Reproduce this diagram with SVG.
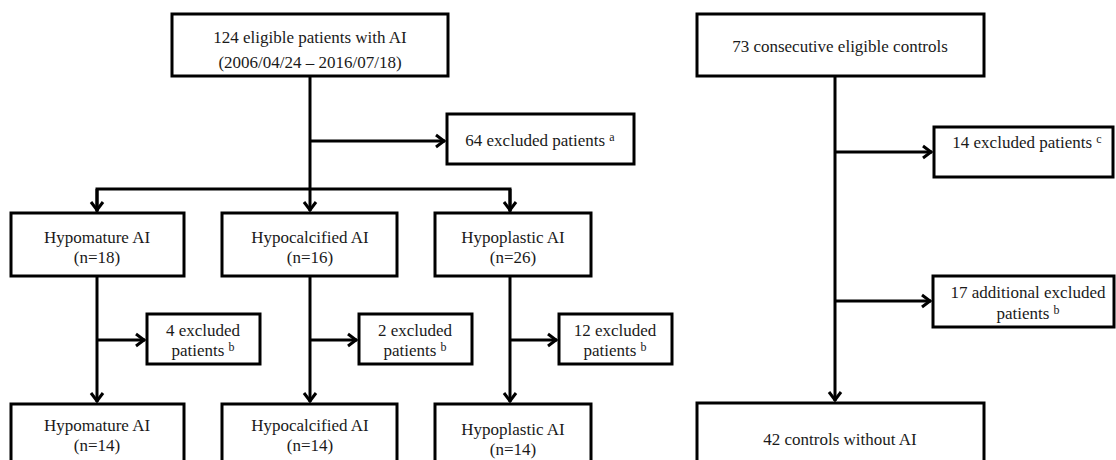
<svg xmlns="http://www.w3.org/2000/svg" width="1116" height="460" viewBox="0 0 1116 460">
<style>
.box{fill:#fff;stroke:#000;stroke-width:3}
.ln{fill:none;stroke:#000;stroke-width:3}
.arr{fill:none;stroke:#000;stroke-width:3;marker-end:url(#ah)}
text{font-family:"Liberation Serif","Times New Roman",serif;font-size:17px;fill:#1a1a1a;text-anchor:middle}
.sup{font-size:12px}
</style>
<defs>
<marker id="ah" markerUnits="userSpaceOnUse" markerWidth="16" markerHeight="18" refX="12" refY="9" orient="auto">
<path d="M3,3 L11,9 L3,15" fill="none" stroke="#000" stroke-width="3"/>
</marker>
</defs>
<rect width="1116" height="460" fill="#fff"/>
<g id="connectors">
<line class="ln" x1="310" y1="76" x2="310" y2="189"/>
<line class="arr" x1="310" y1="141" x2="445" y2="141"/>
<polyline class="ln" points="97,213 97,189 510,189 510,213"/>
<line class="arr" x1="97" y1="189" x2="97" y2="211"/>
<line class="arr" x1="310" y1="189" x2="310" y2="211"/>
<line class="arr" x1="510" y1="189" x2="510" y2="211"/>
<line class="arr" x1="97" y1="276" x2="97" y2="402"/>
<line class="arr" x1="310" y1="276" x2="310" y2="402"/>
<line class="arr" x1="510" y1="276" x2="510" y2="402"/>
<line class="arr" x1="97" y1="340" x2="145" y2="340"/>
<line class="arr" x1="310" y1="340" x2="357" y2="340"/>
<line class="arr" x1="510" y1="340" x2="557" y2="340"/>
<line class="arr" x1="835" y1="76" x2="835" y2="401"/>
<line class="arr" x1="835" y1="152" x2="932" y2="152"/>
<line class="arr" x1="835" y1="301" x2="931" y2="301"/>
</g>
<g id="n_top">
<rect class="box" x="172" y="14" width="276" height="62"/>
<text x="310" y="43">124 eligible patients with AI</text>
<text x="310" y="68">(2006/04/24 – 2016/07/18)</text>
</g>
<g id="n_controls">
<rect class="box" x="697" y="14" width="287" height="62"/>
<text x="840" y="52">73 consecutive eligible controls</text>
</g>
<g id="n_excl64">
<rect class="box" x="447" y="114" width="187" height="50"/>
<text x="540" y="146">64 excluded patients <tspan class="sup" dy="-5">a</tspan></text>
</g>
<g id="n_excl14">
<rect class="box" x="934" y="127" width="179" height="50"/>
<text x="1027" y="148">14 excluded patients <tspan class="sup" dy="-5">c</tspan></text>
</g>
<g id="n_hypomature">
<rect class="box" x="11" y="213" width="173" height="63"/>
<text x="97" y="243">Hypomature AI</text>
<text x="97" y="263">(n=18)</text>
</g>
<g id="n_hypocalcified">
<rect class="box" x="222" y="213" width="175" height="63"/>
<text x="310" y="243">Hypocalcified AI</text>
<text x="310" y="263">(n=16)</text>
</g>
<g id="n_hypoplastic">
<rect class="box" x="435" y="213" width="156" height="63"/>
<text x="513" y="243">Hypoplastic AI</text>
<text x="513" y="263">(n=26)</text>
</g>
<g id="n_excl4">
<rect class="box" x="147" y="314" width="113" height="50"/>
<text x="203" y="336">4 excluded</text>
<text x="203" y="356">patients <tspan class="sup" dy="-5">b</tspan></text>
</g>
<g id="n_excl2">
<rect class="box" x="359" y="314" width="113" height="50"/>
<text x="415" y="336">2 excluded</text>
<text x="415" y="356">patients <tspan class="sup" dy="-5">b</tspan></text>
</g>
<g id="n_excl12">
<rect class="box" x="559" y="314" width="113" height="50"/>
<text x="615" y="336">12 excluded</text>
<text x="615" y="356">patients <tspan class="sup" dy="-5">b</tspan></text>
</g>
<g id="n_excl17">
<rect class="box" x="933" y="276" width="181" height="51"/>
<text x="1028" y="298">17 additional excluded</text>
<text x="1028" y="319">patients <tspan class="sup" dy="-5">b</tspan></text>
</g>
<g id="n_hypomature2">
<rect class="box" x="11" y="404" width="173" height="80"/>
<text x="97" y="431">Hypomature AI</text>
<text x="97" y="451">(n=14)</text>
</g>
<g id="n_hypocalcified2">
<rect class="box" x="222" y="404" width="175" height="80"/>
<text x="310" y="431">Hypocalcified AI</text>
<text x="310" y="451">(n=14)</text>
</g>
<g id="n_hypoplastic2">
<rect class="box" x="435" y="404" width="156" height="80"/>
<text x="513" y="435">Hypoplastic AI</text>
<text x="513" y="455">(n=14)</text>
</g>
<g id="n_controls2">
<rect class="box" x="697" y="403" width="287" height="80"/>
<text x="840" y="445">42 controls without AI</text>
</g>
</svg>
